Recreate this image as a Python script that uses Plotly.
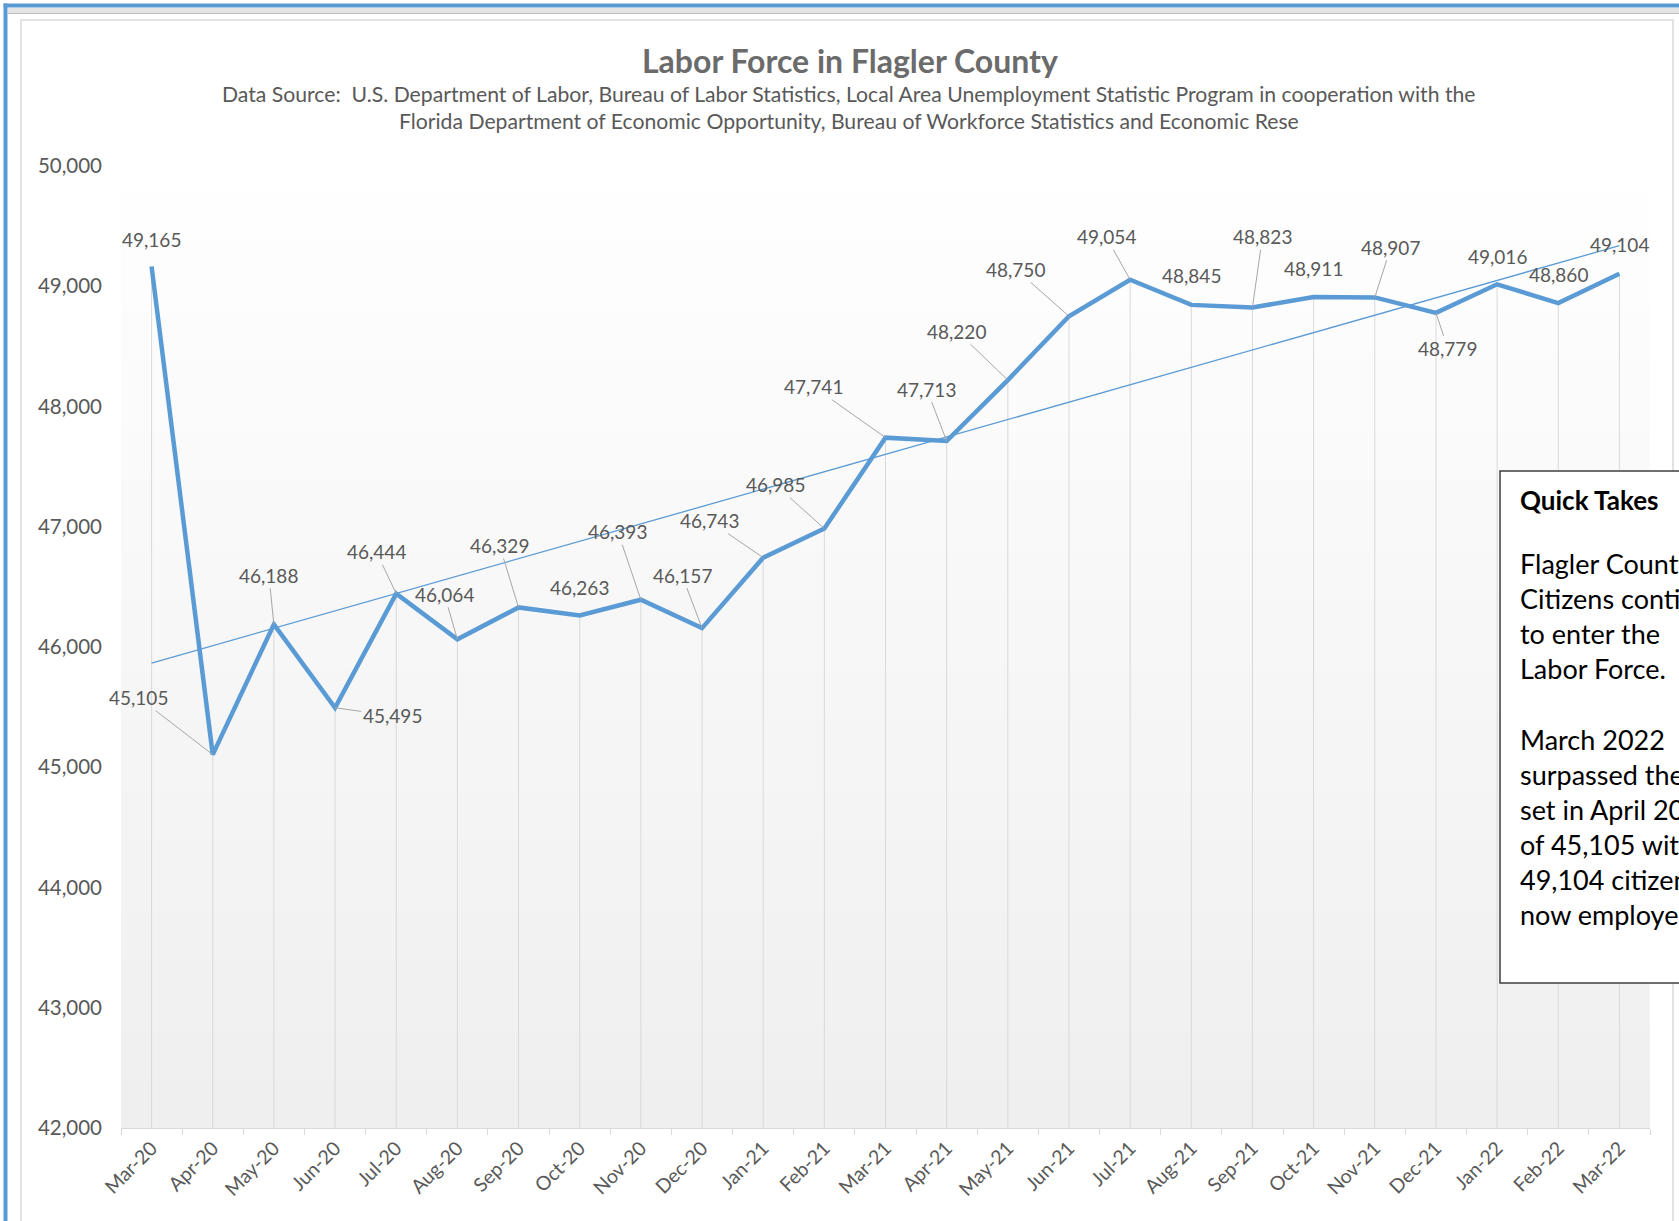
import numpy as np
import plotly.graph_objects as go

# ---------------- data ----------------
months = ["Mar-20", "Apr-20", "May-20", "Jun-20", "Jul-20", "Aug-20", "Sep-20", "Oct-20",
          "Nov-20", "Dec-20", "Jan-21", "Feb-21", "Mar-21", "Apr-21", "May-21", "Jun-21",
          "Jul-21", "Aug-21", "Sep-21", "Oct-21", "Nov-21", "Dec-21", "Jan-22", "Feb-22", "Mar-22"]
labor_force = [49165, 45105, 46188, 45495, 46444, 46064, 46329, 46263,
               46393, 46157, 46743, 46985, 47741, 47713, 48220, 48750,
               49054, 48845, 48823, 48911, 48907, 48779, 49016, 48860, 49104]
y_ticks = [42000, 43000, 44000, 45000, 46000, 47000, 48000, 49000, 50000]

title_text = "Labor Force in Flagler County"
subtitle_1 = ("Data Source:  U.S. Department of Labor, Bureau of Labor Statistics, Local Area "
              "Unemployment Statistic Program in cooperation with the")
subtitle_2 = ("Florida Department of Economic Opportunity, Bureau of Workforce Statistics "
              "and Economic Rese")
quick_title = "Quick Takes"
quick_body = ("Flagler County<br>Citizens continue<br>to enter the<br>Labor Force.<br><br>"
              "March 2022<br>surpassed the low<br>set in April 2020<br>of 45,105 with<br>"
              "49,104 citizens<br>now employed.")

# ---------------- styling ----------------
W, H = 1679, 1221
L, R, T, B = 121, 1650, 166, 1128   # plot area in pixels
BLUE = "#5b9bd5"
GRAY_TXT = "#595959"
FONT = "Lato"

# label offsets in pixels (dx, dy, leader line?)
label_pos = [(0, -27, False), (-74, -57, True), (-5, -49, True), (57, 8, True),
             (-20, -42, True), (-13, -45, True), (-19, -62, True), (0, -28, False),
             (-23, -68, True), (-20, -53, True), (-54, -37, True), (-49, -44, True),
             (-72, -51, True), (-20, -52, True), (-51, -49, True), (-53, -47, True),
             (-24, -43, True), (0, -29, False), (10, -71, True), (0, -28, False),
             (16, -50, True), (12, 36, True), (0, -28, False), (0, -29, False), (0, -29, False)]


def px(x):
    return (x - L) / (R - L)


def py(y):
    return (B - y) / (B - T)


# trend line (linear regression on the data)
idx = np.arange(len(labor_force))
slope, intercept = np.polyfit(idx, labor_force, 1)
trend = intercept + slope * idx

fig = go.Figure()

# drop lines
drop_x, drop_y = [], []
for m, v in zip(months, labor_force):
    drop_x += [m, m, None]
    drop_y += [y_ticks[0], v, None]
fig.add_trace(go.Scatter(x=drop_x, y=drop_y, mode="lines",
                         line=dict(color="#d9d9d9", width=1), hoverinfo="skip", showlegend=False))

# trend line
fig.add_trace(go.Scatter(x=months, y=trend, mode="lines",
                         line=dict(color=BLUE, width=1.3), hoverinfo="skip", showlegend=False))

# main line
fig.add_trace(go.Scatter(x=months, y=labor_force, mode="lines",
                         line=dict(color=BLUE, width=4.5), showlegend=False))

# data labels
for m, v, (dx, dy, leader) in zip(months, labor_force, label_pos):
    txt = f"{v:,}"
    if leader:
        fig.add_annotation(x=m, y=v, xref="x", yref="y", text=txt, showarrow=True,
                           ax=dx, ay=dy, arrowhead=0, arrowwidth=1, arrowcolor="#a6a6a6",
                           standoff=0, font=dict(family=FONT, size=19, color=GRAY_TXT))
    else:
        fig.add_annotation(x=m, y=v, xref="x", yref="y", text=txt, showarrow=False,
                           xshift=dx, yshift=-dy, font=dict(family=FONT, size=19, color=GRAY_TXT))

shapes = []
# plot-area gradient background
nb = 40
for i in range(nb):
    t = i / nb
    c = int(round(239 + (255 - 239) * t))
    shapes.append(dict(type="rect", xref="paper", yref="paper", x0=0, x1=1,
                       y0=t, y1=(i + 1) / nb + 0.002, line=dict(width=0),
                       fillcolor=f"rgb({c},{c},{c})", layer="below"))
# outer frame decorations
shapes.append(dict(type="rect", xref="paper", yref="paper", x0=px(21), x1=px(1673),
                   y0=py(1240), y1=py(20), line=dict(color="#d9d9d9", width=1.5),
                   fillcolor="rgba(0,0,0,0)", layer="above"))
shapes.append(dict(type="rect", xref="paper", yref="paper", x0=px(8), x1=px(1700),
                   y0=py(13), y1=py(8), line=dict(width=0), fillcolor="#e4e4e4", layer="above"))
shapes.append(dict(type="line", xref="paper", yref="paper", x0=px(8), x1=px(1700),
                   y0=py(13.5), y1=py(13.5), line=dict(color="#bdbdbd", width=1.2), layer="above"))
shapes.append(dict(type="rect", xref="paper", yref="paper", x0=px(3.5), x1=px(1700),
                   y0=py(7.5), y1=py(3.5), line=dict(width=0), fillcolor=BLUE, layer="above"))
shapes.append(dict(type="rect", xref="paper", yref="paper", x0=px(3.5), x1=px(7.5),
                   y0=py(1240), y1=py(3.5), line=dict(width=0), fillcolor=BLUE, layer="above"))
# quick takes box
shapes.append(dict(type="rect", xref="paper", yref="paper", x0=px(1500), x1=px(1720),
                   y0=py(983), y1=py(471), line=dict(color="#3f3f3f", width=1.5),
                   fillcolor="#ffffff", layer="above"))

fig.update_layout(shapes=shapes)

# titles
fig.add_annotation(xref="paper", yref="paper", x=px(850), y=py(60), xanchor="center",
                   yanchor="middle", text=f"<b>{title_text}</b>",
                   showarrow=False, font=dict(family=FONT, size=32, color="#6b6b6b"))
fig.add_annotation(xref="paper", yref="paper", x=px(849), y=py(94), xanchor="center",
                   yanchor="middle", text=subtitle_1,
                   showarrow=False, font=dict(family=FONT, size=21.2, color=GRAY_TXT))
fig.add_annotation(xref="paper", yref="paper", x=px(849), y=py(121), xanchor="center",
                   yanchor="middle", text=subtitle_2,
                   showarrow=False, font=dict(family=FONT, size=21.2, color=GRAY_TXT))

# quick takes text
fig.add_annotation(xref="paper", yref="paper", x=px(1518), y=py(500), xanchor="left",
                   yanchor="middle", text=f"<b>{quick_title}</b>", showarrow=False, align="left",
                   font=dict(family=FONT, size=26, color="#000000"))
fig.add_annotation(xref="paper", yref="paper", x=px(1518), y=py(739), xanchor="left",
                   yanchor="middle", text=quick_body, showarrow=False, align="left",
                   font=dict(family=FONT, size=27, color="#000000"))

fig.update_xaxes(type="category", range=[-0.5, len(months) - 0.5], showgrid=False,
                 showline=True, linecolor="#d9d9d9", linewidth=1.2,
                 ticks="outside", tickson="boundaries", ticklen=6, tickcolor="#d9d9d9",
                 tickangle=-45, tickfont=dict(family=FONT, size=19.5, color=GRAY_TXT), zeroline=False)
fig.update_yaxes(range=[y_ticks[0], y_ticks[-1]], tickvals=y_ticks, tickformat=",",
                 showgrid=False, showline=False, zeroline=False, ticks="",
                 ticklabelstandoff=18, tickfont=dict(family=FONT, size=20.5, color=GRAY_TXT))

fig.update_layout(width=W, height=H, margin=dict(l=L, r=W - R, t=T, b=H - B),
                  paper_bgcolor="#ffffff", plot_bgcolor="#ffffff", showlegend=False,
                  hovermode=False)

fig.write_html("out.html", config={"displayModeBar": False},
               post_script="document.body.style.margin='0';")
